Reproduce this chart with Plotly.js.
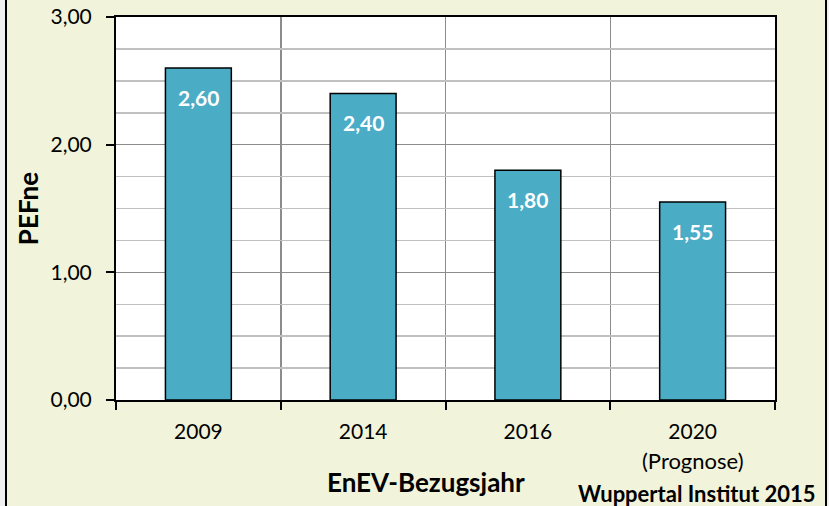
<!DOCTYPE html>
<html>
<head>
<meta charset="utf-8">
<script src="https://cdn.plot.ly/plotly-3.0.1.min.js"></script>
<style>html,body{margin:0;padding:0;background:#F0F0F0;}#chart{width:829px;height:506px;}</style>
</head>
<body>
<div id="chart"></div>
<script>
const categories = ['2009', '2014', '2016', '2020'];
const values = [2.60, 2.40, 1.80, 1.55];
const extraLabel = '(Prognose)';
const yTitle = 'PEFne';
const xTitle = 'EnEV-Bezugsjahr';
const sourceNote = 'Wuppertal Institut 2015';

const FONT = 'Lato, "Open Sans", sans-serif';
const fmt = v => v.toFixed(2).replace('.', ',');
const idx = categories.map((_, i) => i);

const trace = {
  type: 'bar',
  x: idx,
  y: values,
  width: 0.4,
  marker: {color: '#4BACC6', line: {color: '#000000', width: 1.5}},
  hoverinfo: 'skip'
};

const annotations = idx.map(i => ({
  x: i, y: values[i], xref: 'x', yref: 'y',
  text: '<b>' + fmt(values[i]) + '</b>',
  showarrow: false, yanchor: 'middle', yshift: -29,
  font: {family: FONT, size: 21, color: '#FFFFFF'}
}));
annotations.push({
  x: idx[3], y: -0.157, xref: 'x', yref: 'paper',
  text: extraLabel, showarrow: false, yanchor: 'middle',
  font: {family: FONT, size: 22, color: '#000000'}
});
annotations.push({
  x: 0.47, y: -0.215, xref: 'paper', yref: 'paper',
  text: '<b>' + xTitle + '</b>', showarrow: false, yanchor: 'middle',
  font: {family: FONT, size: 26, color: '#000000'}
});
annotations.push({
  x: 1.065, y: -0.243, xref: 'paper', yref: 'paper',
  text: '<b>' + sourceNote + '</b>', showarrow: false, xanchor: 'right', yanchor: 'middle',
  font: {family: FONT, size: 22, color: '#000000'}
});

const layout = {
  width: 829, height: 506,
  margin: {l: 116, r: 54, t: 17, b: 106},
  paper_bgcolor: '#F0F0F0',
  plot_bgcolor: 'rgba(0,0,0,0)',
  separators: ',.',
  showlegend: false,
  font: {family: FONT, size: 21, color: '#000000'},
  xaxis: {
    type: 'linear',
    range: [-0.5, categories.length - 0.5],
    tickmode: 'array', tickvals: idx, ticktext: categories,
    ticks: '', showgrid: false, zeroline: false,
    ticklabelstandoff: 12,
    minor: {tickmode: 'linear', tick0: 0.5, dtick: 1, ticks: 'outside', ticklen: 8, tickwidth: 2, tickcolor: '#000000',
            showgrid: true, gridcolor: '#8C8C8C', gridwidth: 1.5},
    showline: true, linecolor: '#000000', linewidth: 2, mirror: true,
    tickfont: {family: FONT, size: 21}, fixedrange: true
  },
  yaxis: {
    range: [0, 3], dtick: 1, tickformat: '.2f',
    showgrid: true, gridcolor: '#8C8C8C', gridwidth: 1.5,
    minor: {dtick: 0.25, showgrid: true, gridcolor: '#C0C0C0', gridwidth: 1.5},
    ticks: 'outside', ticklen: 8, tickwidth: 2, tickcolor: '#000000',
    ticklabelstandoff: 10,
    showline: true, linecolor: '#000000', linewidth: 2, mirror: true,
    zeroline: false,
    tickfont: {family: FONT, size: 21},
    title: {text: '<b>' + yTitle + '</b>', font: {family: FONT, size: 26}, standoff: 4},
    fixedrange: true
  },
  shapes: [
    {type: 'rect', xref: 'paper', yref: 'paper', layer: 'below',
     x0: -110/659, x1: 710/659, y0: -107/383, y1: 1 + 30/383,
     fillcolor: '#F1F3DA', line: {color: '#000000', width: 2}},
    {type: 'rect', xref: 'paper', yref: 'paper', layer: 'below',
     x0: 0, x1: 1, y0: 0, y1: 1, fillcolor: '#FFFFFF', line: {width: 0}}
  ],
  annotations: annotations
};

Plotly.newPlot('chart', [trace], layout, {displayModeBar: false, staticPlot: true});
</script>
</body>
</html>
